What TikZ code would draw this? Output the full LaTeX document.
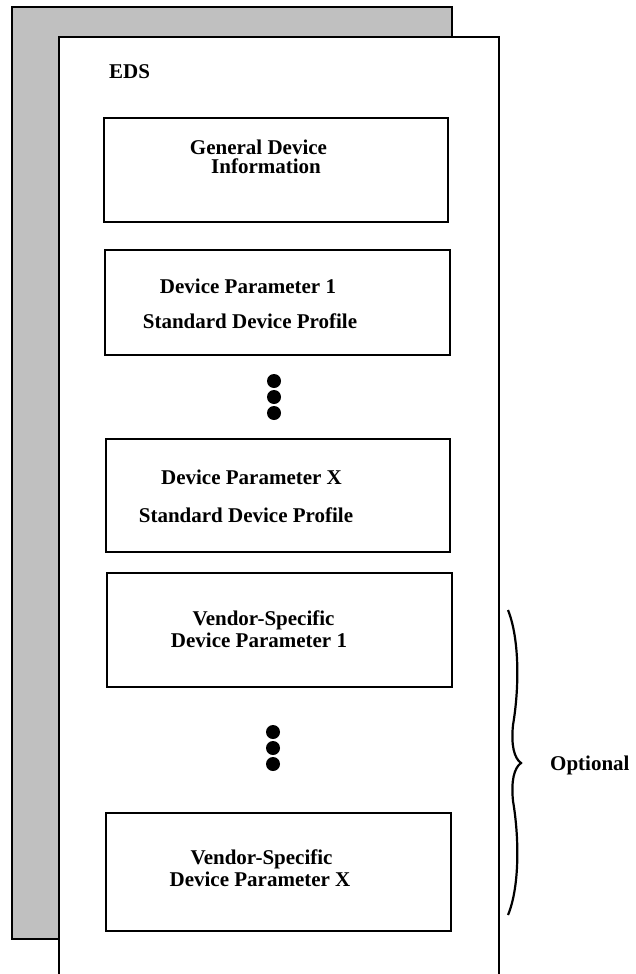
\documentclass[tikz,border=0pt]{standalone}
\usepackage{fontspec}
\setmainfont{Liberation Serif}
\usetikzlibrary{positioning, calc}
\definecolor{sheetgray}{RGB}{192,192,192}

\begin{document}
\begin{tikzpicture}[x=1pt,y=-1pt,
  blk/.style={draw,line width=1.4pt},
  txt/.style={anchor=base,inner sep=0pt,font=\fontsize{21}{24}\selectfont\bfseries}]

\useasboundingbox (0,0) rectangle (635,974);
\clip (0,0) rectangle (635,974);

% sheets
\draw[blk,fill=sheetgray] (12,7) rectangle (452,939);
\draw[blk,fill=white] (59,37) rectangle (499,990);

\node[txt,anchor=base west] (eds) at (109,78) {EDS};

% blocks
\draw[blk] (104,118) rectangle (448,222);
\draw[blk] (105,250) rectangle (450,355);
\draw[blk] (106,439) rectangle (450,552);
\draw[blk] (107,573) rectangle (452,687);
\draw[blk] (106,813) rectangle (451,931);

\node[txt] (gen1) at (258.5,154) {General Device};
\node[txt] (gen2) at (266,173) {Information};

\node[txt] (dpa1) at (248,293) {Device Parameter 1};
\node[txt] (dpa2) at (250,328) {Standard Device Profile};

\node[txt] (dpx1) at (251.5,484) {Device Parameter X};
\node[txt] (dpx2) at (246,522) {Standard Device Profile};

\node[txt] (vsa1) at (263.5,625) {Vendor-Specific};
\node[txt] (vsa2) at (259,647) {Device Parameter 1};

\node[txt] (vsx1) at (261.5,864) {Vendor-Specific};
\node[txt] (vsx2) at (260,886) {Device Parameter X};

% dots
\foreach \y in {381,397,413} \fill (274,\y) circle (7pt);
\foreach \y in {732,748,764} \fill (273,\y) circle (7pt);

% optional part
\draw[line width=2.2pt] (508,610) .. controls (520,640) and (519,690) .. (513,725)
  .. controls (511,745) and (514,758) .. (521,763)
  .. controls (514,768) and (511,781) .. (513,801)
  .. controls (519,836) and (520,886) .. (508,915);
\node[txt,anchor=base west] (opt) at (550,770) {Optional};

\end{tikzpicture}
\end{document}
